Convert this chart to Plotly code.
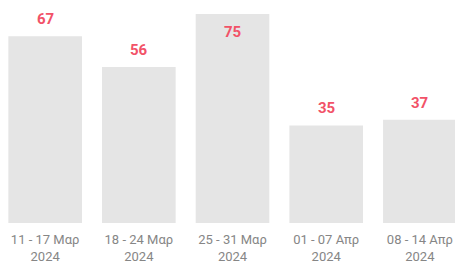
import plotly.graph_objects as go

categories = ["11 - 17 Μαρ<br>2024", "18 - 24 Μαρ<br>2024", "25 - 31 Μαρ<br>2024",
              "01 - 07 Απρ<br>2024", "08 - 14 Απρ<br>2024"]
values = [67, 56, 75, 35, 37]

y_max = 80
fig = go.Figure(go.Bar(
    x=list(range(len(categories))), y=values,
    marker=dict(color="#e5e5e5", line=dict(width=0)),
    width=0.786, hoverinfo="skip",
))

for i, v in enumerate(values):
    inside = v + 10 > y_max
    fig.add_annotation(x=i, y=v, text=f"<b>{v}</b>", showarrow=False,
                       yshift=-18 if inside else 17, xanchor="center", yanchor="middle",
                       font=dict(family="Roboto, Arial, sans-serif", size=15, color="#f25268"))

fig.update_layout(
    width=455, height=265,
    margin=dict(l=0, r=0, t=0, b=42),
    paper_bgcolor="white", plot_bgcolor="white",
    showlegend=False,
    xaxis=dict(range=[-0.482, 4.375], tickmode="array", automargin=False,
               tickvals=list(range(len(categories))), ticktext=categories,
               showgrid=False, zeroline=False, showline=False,
               ticks="", ticklabelstandoff=7,
               tickfont=dict(family="Roboto, Arial, sans-serif", size=13, color="#868686")),
    yaxis=dict(range=[0, y_max], visible=False, fixedrange=True, automargin=False),
)

fig.write_html("out.html", config={"displayModeBar": False},
               post_script="document.body.style.margin='0';document.body.style.overflow='hidden';")
